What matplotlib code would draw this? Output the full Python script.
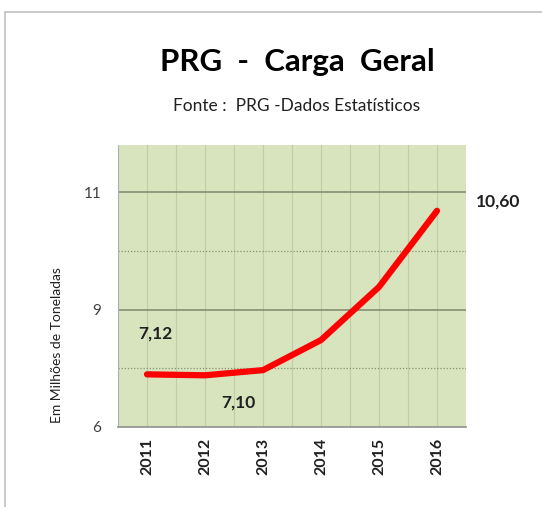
import matplotlib
matplotlib.use('Agg')
import matplotlib.pyplot as plt
from matplotlib.patches import Rectangle
import numpy as np

plt.rcParams['font.family'] = ['Lato', 'DejaVu Sans']

# data
years = ['2011', '2012', '2013', '2014', '2015', '2016']
carga = [7.12, 7.10, 7.21, 7.85, 8.98, 10.60]
# labelled points: (index, text, x offset in categories, y position)
point_labels = [(0, '7,12', 0.15, 7.98), (1, '7,10', 0.58, 6.53), (5, '10,60', 1.05, 10.79)]
y_ticks = [6, 8.5, 11]
y_tick_labels = ['6', '9', '11']
y_minor = [7.25, 9.75]

fig = plt.figure(figsize=(5.42, 5.07), dpi=100)
# outer frame (only top and left edges show)
fig.patches.append(Rectangle((5/542, -0.1), 1.2, 1 - 12/507 + 0.1, transform=fig.transFigure,
	fill=False, edgecolor='#c0c0c0', linewidth=1.2))

ax = fig.add_axes([118/542, 1 - 427/507, 348/542, 282/507])
ax.set_facecolor('#d7e4bd')
x = np.arange(len(years))

# grid lines
for v in np.arange(-0.5, len(years), 0.5):
	ax.axvline(v, color='#c2cba6', linewidth=0.8, zorder=1)
for v in y_ticks[1:]:
	ax.axhline(v, color='#7f8670', linewidth=1.1, zorder=1)
for v in y_minor:
	ax.axhline(v, color='#8a9078', linewidth=0.9, linestyle=(0, (1, 1.5)), zorder=1)

ax.plot(x, carga, color='#ff0000', linewidth=4.5, solid_capstyle='round',
	solid_joinstyle='round', zorder=3)

for i, txt, dx, yy in point_labels:
	ax.text(i + dx, yy, txt, fontsize=12.5, fontweight='bold', color='#202020',
		ha='center', va='center', clip_on=False)

ax.set_xlim(-0.5, len(years) - 0.5)
ax.set_ylim(6, 12)
ax.set_xticks(x)
ax.set_xticklabels(years, rotation=90, fontsize=11.5, fontweight='bold', color='#202020')
ax.set_yticks(y_ticks)
ax.set_yticklabels(y_tick_labels, fontsize=11, color='#404040')
ax.tick_params(length=0, pad=12)
ax.tick_params(axis='x', pad=8)

for s in ['top', 'right']:
	ax.spines[s].set_visible(False)
ax.spines['left'].set_color('#b0b0b0')
ax.spines['left'].set_linestyle((0, (1, 1)))
ax.spines['left'].set_linewidth(0.8)
ax.spines['bottom'].set_color('#909090')
ax.spines['bottom'].set_linewidth(1.2)

fig.text(297/542, 1 - 62/507, 'PRG  -  Carga  Geral', fontsize=22.5, fontweight='bold',
	ha='center', va='center', color='#000000')
fig.text(297/542, 1 - 106/507, 'Fonte :  PRG -Dados Estatísticos', fontsize=12.5,
	ha='center', va='center', color='#202020')
fig.text(57/542, 1 - 345/507, 'Em Milhões de Toneladas', fontsize=10, rotation=90,
	ha='center', va='center', color='#202020')

plt.savefig('out.png', dpi=100)
